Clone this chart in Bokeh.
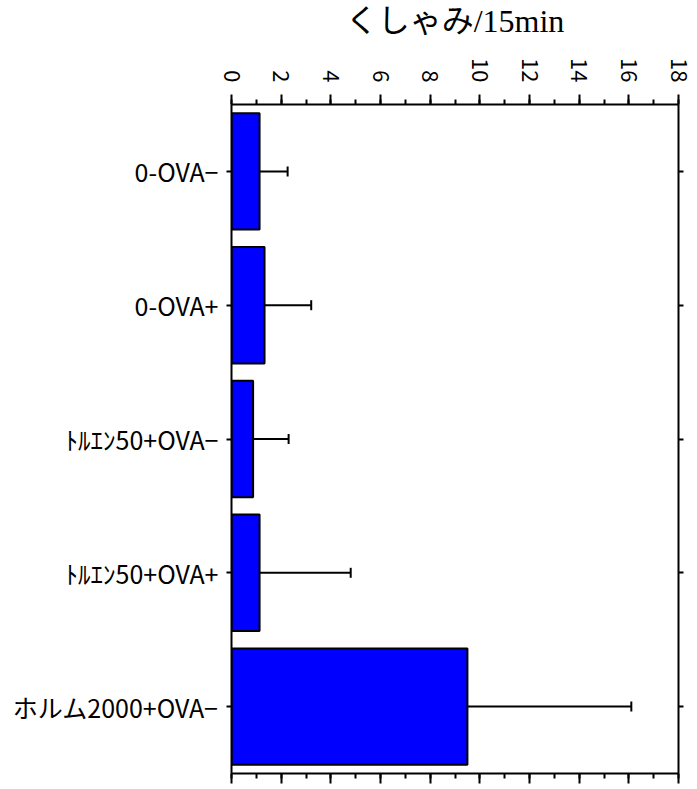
import math
from bokeh.plotting import figure
from bokeh.models import (Range1d, FactorRange, LinearAxis, CategoricalAxis, ColumnDataSource,
                          Whisker, TeeHead, FixedTicker)
from bokeh.embed import file_html
from bokeh.resources import INLINE

categories = ["0-OVA−", "0-OVA+", "ﾄﾙｴﾝ50+OVA−", "ﾄﾙｴﾝ50+OVA+", "ホルム2000+OVA−"]
means = [1.13, 1.33, 0.87, 1.13, 9.5]
errors = [1.13, 1.88, 1.43, 3.67, 6.6]
x_ticks = [0, 2, 4, 6, 8, 10, 12, 14, 16, 18]
x_minor = list(range(0, 19))
axis_title = "くしゃみ/15min"

upper = [m + e for m, e in zip(means, errors)]
src = ColumnDataSource(dict(cat=categories, mean=means, upper=upper))

JP = "Noto Sans CJK JP"

p = figure(width=697, height=789, output_backend="svg", toolbar_location=None,
           x_range=Range1d(0, 18), y_range=FactorRange(*reversed(categories)),
           x_axis_location="above", min_border_left=231, min_border_top=104,
           min_border_right=19, min_border_bottom=16)
p.outline_line_color = None
p.xgrid.visible = False
p.ygrid.visible = False

p.hbar(y="cat", left=0, right="mean", height=0.87, source=src,
       fill_color="#0000FF", line_color="black", line_width=2)

wh = Whisker(source=src, base="cat", lower="mean", upper="upper", dimension="width",
             line_color="black", line_width=2, lower_head=None,
             upper_head=TeeHead(size=10, line_width=2, line_color="black"))
p.add_layout(wh)

# top axis
ax = p.xaxis[0]
ax.ticker = FixedTicker(ticks=x_ticks, minor_ticks=x_minor)
ax.axis_line_width = 2
ax.major_tick_line_width = 2
ax.minor_tick_line_width = 2
ax.major_tick_out = 10
ax.major_tick_in = 0
ax.minor_tick_out = 5
ax.minor_tick_in = 0
ax.major_label_orientation = -math.pi / 2
ax.major_label_text_font = JP
ax.major_label_text_font_size = "22px"
ax.major_label_text_color = "black"
ax.major_label_standoff = 12
ax.axis_label = axis_title
ax.axis_label_text_font = "Liberation Serif, Noto Sans CJK JP"
ax.axis_label_text_font_style = "normal"
ax.axis_label_text_font_size = "32px"
ax.axis_label_text_color = "black"
ax.axis_label_standoff = 16

# bottom axis (ticks only)
bx = LinearAxis(ticker=FixedTicker(ticks=x_ticks, minor_ticks=x_minor))
bx.axis_line_width = 2
bx.major_tick_line_width = 2
bx.minor_tick_line_width = 2
bx.major_tick_out = 10
bx.major_tick_in = 0
bx.minor_tick_out = 5
bx.minor_tick_in = 0
bx.major_label_text_font_size = "2px"
bx.major_label_text_color = None
bx.major_label_standoff = 0
p.add_layout(bx, "below")

# left axis
ly = p.yaxis[0]
ly.axis_line_width = 2
ly.major_tick_line_width = 2
ly.major_tick_out = 5
ly.major_tick_in = 0
ly.major_label_text_font = JP
ly.major_label_text_font_size = "25px"
ly.major_label_text_color = "black"
ly.major_label_standoff = 8

# right axis (ticks only)
ry = CategoricalAxis()
ry.axis_line_width = 2
ry.major_tick_line_width = 2
ry.major_tick_out = 5
ry.major_tick_in = 0
ry.major_label_text_font_size = "2px"
ry.major_label_text_color = None
ry.major_label_standoff = 0
p.add_layout(ry, "right")

open("out.html", "w").write(file_html(p, INLINE))
